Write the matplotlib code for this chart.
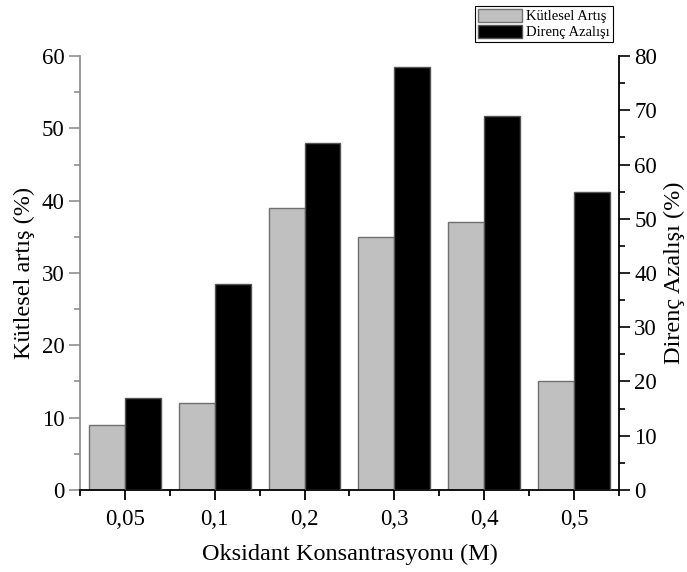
import matplotlib.pyplot as plt
import numpy as np

plt.rcParams['font.family'] = ['Liberation Serif', 'DejaVu Serif']

# Data
categories = ['0,05', '0,1', '0,2', '0,3', '0,4', '0,5']
kutlesel_artis = [9, 12, 39, 35, 37, 15]      # left axis (%)
direnc_azalisi = [17, 38, 64, 78, 69, 55]     # right axis (%)

x = np.arange(len(categories))
w = 0.4

fig = plt.figure(figsize=(6.87, 5.72), dpi=100)
ax = fig.add_axes([0.1164, 0.1434, 0.7846, 0.7586])
ax2 = ax.twinx()

b1 = ax.bar(x - w / 2, kutlesel_artis, width=w, color='#c0c0c0',
            edgecolor='#707070', linewidth=1.0, label='Kütlesel Artış')
b2 = ax2.bar(x + w / 2, direnc_azalisi, width=w, color='black',
             edgecolor='#555555', linewidth=1.0, label='Direnç Azalışı')

ax.set_xlim(-0.5, 5.5)
ax.set_ylim(0, 60)
ax2.set_ylim(0, 80)
ax.set_yticks(np.arange(0, 61, 10))
ax.set_yticks(np.arange(5, 60, 10), minor=True)
ax2.set_yticks(np.arange(0, 81, 10))
ax2.set_yticks(np.arange(5, 80, 10), minor=True)
ax.set_xticks(x)
ax.set_xticklabels(categories)
ax.set_xticks(np.arange(-0.5, 5.6, 1), minor=True)

# spines
for a in (ax, ax2):
    a.spines['top'].set_visible(False)
ax.spines['left'].set_color('#909090')
ax2.spines['left'].set_visible(False)
ax.spines['right'].set_visible(False)
ax2.spines['right'].set_color('black')
ax.spines['bottom'].set_color('black')
ax2.spines['bottom'].set_visible(False)
for a in (ax, ax2):
    for s in a.spines.values():
        s.set_linewidth(1.3)

ax.tick_params(axis='y', which='major', length=8, width=1.2, color='#909090',
               labelsize=16.5, pad=3)
ax.tick_params(axis='y', which='minor', length=4, width=1.2, color='#909090')
ax.tick_params(axis='x', which='major', length=7, width=1.3, color='black',
               labelsize=16.5, pad=7)
ax.tick_params(axis='x', which='minor', length=4, width=1.3, color='black')
ax2.tick_params(axis='y', which='major', length=8, width=1.2, color='black',
                labelsize=16.5, pad=3)
ax2.tick_params(axis='y', which='minor', length=4, width=1.2, color='black')

ax.set_xlabel('Oksidant Konsantrasyonu (M)', fontsize=17.5, labelpad=10)
ax.set_ylabel('Kütlesel artış (%)', fontsize=17.5, labelpad=5)
ax2.set_ylabel('Direnç Azalışı (%)', fontsize=17.5, labelpad=5)

leg = fig.legend(handles=[b1, b2], loc='upper right',
                 bbox_to_anchor=(0.892, 0.99), fontsize=10.5,
                 frameon=True, fancybox=False, framealpha=1,
                 edgecolor='black', borderpad=0.2, labelspacing=0.1,
                 handlelength=3.0, handleheight=1.0, handletextpad=0.3,
                 borderaxespad=0)
leg.get_frame().set_linewidth(0.8)

plt.savefig('out.png', dpi=100)
